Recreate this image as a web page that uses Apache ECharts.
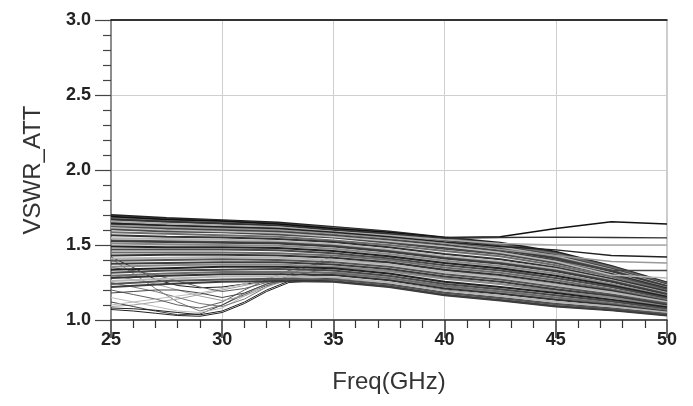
<!DOCTYPE html>
<html>
<head>
<meta charset="utf-8">
<script src="https://cdn.jsdelivr.net/npm/echarts@6/dist/echarts.min.js"></script>
<style>
  html, body { margin: 0; padding: 0; background: #fff; }
  #chart { width: 693px; height: 406px; }
</style>
</head>
<body>
<div id="chart"></div>
<script>
// frequency grids (GHz)
var freq = [25, 27.5, 30, 32.5, 35, 37.5, 40, 42.5, 45, 47.5, 50];
var freqLow = [25, 26, 27, 28, 29, 30, 31, 32, 33, 35, 37.5, 40, 42.5, 45, 47.5, 50];

var xTicks = [25, 30, 35, 40, 45, 50];
var yTicks = [1.0, 1.5, 2.0, 2.5, 3.0];

// main bundle of VSWR curves, read at freq[]
var bundle = [
    [1.70, 1.68, 1.665, 1.65, 1.62, 1.59, 1.55, 1.515, 1.455, 1.36, 1.25],
    [1.69, 1.67, 1.66, 1.64, 1.615, 1.585, 1.545, 1.505, 1.445, 1.355, 1.245],
    [1.68, 1.66, 1.65, 1.63, 1.61, 1.58, 1.54, 1.50, 1.44, 1.35, 1.24],
    [1.67, 1.655, 1.64, 1.625, 1.60, 1.57, 1.53, 1.49, 1.43, 1.34, 1.235],
    [1.66, 1.645, 1.63, 1.62, 1.59, 1.56, 1.52, 1.485, 1.425, 1.335, 1.23],
    [1.65, 1.635, 1.62, 1.61, 1.585, 1.55, 1.51, 1.475, 1.415, 1.33, 1.225],
    [1.64, 1.63, 1.615, 1.60, 1.575, 1.545, 1.505, 1.47, 1.41, 1.325, 1.225],
    [1.625, 1.61, 1.60, 1.59, 1.56, 1.53, 1.49, 1.455, 1.395, 1.31, 1.215],
    [1.615, 1.60, 1.59, 1.58, 1.555, 1.52, 1.48, 1.445, 1.385, 1.305, 1.21],
    [1.605, 1.59, 1.585, 1.57, 1.55, 1.515, 1.475, 1.44, 1.38, 1.30, 1.205],
    [1.585, 1.575, 1.565, 1.555, 1.53, 1.50, 1.46, 1.425, 1.365, 1.29, 1.195],
    [1.565, 1.555, 1.55, 1.54, 1.52, 1.485, 1.44, 1.405, 1.35, 1.275, 1.19],
    [1.545, 1.54, 1.535, 1.525, 1.505, 1.47, 1.425, 1.39, 1.34, 1.265, 1.18],
    [1.53, 1.525, 1.52, 1.515, 1.495, 1.46, 1.415, 1.38, 1.33, 1.26, 1.175],
    [1.525, 1.52, 1.515, 1.51, 1.49, 1.455, 1.41, 1.375, 1.325, 1.255, 1.17],
    [1.51, 1.505, 1.50, 1.495, 1.475, 1.44, 1.395, 1.36, 1.31, 1.24, 1.16],
    [1.49, 1.485, 1.485, 1.48, 1.46, 1.425, 1.38, 1.345, 1.295, 1.23, 1.155],
    [1.47, 1.47, 1.47, 1.465, 1.445, 1.41, 1.365, 1.33, 1.28, 1.22, 1.145],
    [1.45, 1.45, 1.45, 1.445, 1.43, 1.40, 1.35, 1.315, 1.265, 1.205, 1.135],
    [1.43, 1.435, 1.435, 1.43, 1.415, 1.385, 1.335, 1.30, 1.25, 1.195, 1.125],
    [1.41, 1.415, 1.42, 1.415, 1.40, 1.37, 1.32, 1.285, 1.235, 1.185, 1.12],
    [1.395, 1.40, 1.405, 1.40, 1.385, 1.355, 1.305, 1.27, 1.22, 1.17, 1.11],
    [1.375, 1.38, 1.385, 1.385, 1.37, 1.34, 1.29, 1.255, 1.205, 1.16, 1.10],
    [1.355, 1.365, 1.37, 1.37, 1.355, 1.325, 1.275, 1.24, 1.19, 1.15, 1.09],
    [1.335, 1.345, 1.355, 1.355, 1.345, 1.31, 1.255, 1.22, 1.18, 1.135, 1.085],
    [1.315, 1.33, 1.335, 1.34, 1.33, 1.295, 1.24, 1.205, 1.165, 1.125, 1.075],
    [1.295, 1.31, 1.32, 1.32, 1.315, 1.28, 1.225, 1.19, 1.15, 1.11, 1.065],
    [1.28, 1.295, 1.305, 1.305, 1.30, 1.265, 1.21, 1.175, 1.135, 1.10, 1.055],
    [1.26, 1.275, 1.29, 1.29, 1.285, 1.25, 1.195, 1.16, 1.12, 1.09, 1.05],
    [1.24, 1.26, 1.27, 1.275, 1.27, 1.235, 1.18, 1.145, 1.105, 1.075, 1.04],
    [1.22, 1.24, 1.255, 1.26, 1.255, 1.22, 1.165, 1.13, 1.09, 1.065, 1.03]
];

// curves that leave the bundle upward above 40 GHz
var upper = [
    [1.69, 1.67, 1.66, 1.64, 1.61, 1.585, 1.55, 1.555, 1.61, 1.655, 1.64],
    [1.67, 1.655, 1.645, 1.63, 1.60, 1.575, 1.545, 1.55, 1.553, 1.55, 1.547],
    [1.655, 1.64, 1.63, 1.62, 1.59, 1.565, 1.535, 1.51, 1.50, 1.50, 1.50],
    [1.645, 1.63, 1.62, 1.61, 1.585, 1.555, 1.52, 1.49, 1.467, 1.43, 1.42],
    [1.63, 1.62, 1.61, 1.60, 1.575, 1.545, 1.51, 1.47, 1.43, 1.39, 1.38],
    [1.62, 1.61, 1.60, 1.59, 1.565, 1.535, 1.50, 1.46, 1.40, 1.33, 1.33],
    [1.615, 1.60, 1.59, 1.58, 1.555, 1.525, 1.49, 1.45, 1.39, 1.30, 1.28]
];

// curves crossing in the low-left corner, read at freqLow[]
var lower = [
    [1.42, 1.35, 1.27, 1.23, 1.215, 1.22, 1.24, 1.255, 1.265, 1.26, 1.225, 1.17, 1.135, 1.095, 1.065, 1.035],
    [1.41, 1.31, 1.21, 1.12, 1.06, 1.10, 1.18, 1.24, 1.265, 1.255, 1.22, 1.165, 1.13, 1.09, 1.065, 1.03],
    [1.09, 1.10, 1.12, 1.14, 1.17, 1.20, 1.23, 1.26, 1.28, 1.30, 1.27, 1.22, 1.18, 1.14, 1.11, 1.07],
    [1.12, 1.09, 1.06, 1.035, 1.04, 1.10, 1.17, 1.23, 1.265, 1.26, 1.225, 1.17, 1.135, 1.095, 1.065, 1.035],
    [1.15, 1.12, 1.09, 1.06, 1.05, 1.08, 1.16, 1.24, 1.29, 1.34, 1.31, 1.25, 1.21, 1.16, 1.12, 1.08],
    [1.20, 1.17, 1.14, 1.10, 1.08, 1.12, 1.20, 1.27, 1.33, 1.40, 1.38, 1.33, 1.29, 1.24, 1.19, 1.13],
    [1.08, 1.075, 1.065, 1.05, 1.035, 1.06, 1.12, 1.20, 1.26, 1.28, 1.25, 1.20, 1.16, 1.12, 1.09, 1.05],
    [1.25, 1.22, 1.19, 1.15, 1.11, 1.09, 1.14, 1.22, 1.30, 1.43, 1.42, 1.38, 1.34, 1.28, 1.22, 1.15],
    [1.30, 1.27, 1.24, 1.20, 1.16, 1.13, 1.16, 1.22, 1.27, 1.32, 1.29, 1.24, 1.20, 1.15, 1.12, 1.08],
    [1.18, 1.19, 1.20, 1.20, 1.18, 1.15, 1.18, 1.24, 1.28, 1.31, 1.28, 1.23, 1.19, 1.15, 1.11, 1.06],
    [1.10, 1.12, 1.14, 1.16, 1.18, 1.21, 1.24, 1.28, 1.32, 1.36, 1.33, 1.28, 1.24, 1.19, 1.15, 1.10],
    [1.35, 1.33, 1.30, 1.26, 1.22, 1.19, 1.21, 1.25, 1.29, 1.35, 1.33, 1.28, 1.24, 1.20, 1.16, 1.11],
    [1.07, 1.06, 1.045, 1.03, 1.025, 1.05, 1.11, 1.19, 1.25, 1.27, 1.24, 1.185, 1.15, 1.11, 1.08, 1.045]
];

var bundleGreys = ['#222222', '#4a4a4a', '#6e6e6e', '#333333', '#b5b5b5', '#555555', '#3c3c3c', '#8a8a8a'];
var thinGreys = ['#1e1e1e', '#7a7a7a', '#a0a0a0', '#444444', '#bbbbbb', '#5e5e5e'];

var chart = echarts.init(document.getElementById('chart'));

var series = [];
function addLines(list, xs, colors, width, offset) {
    list.forEach(function (vals, k) {
        series.push({
            type: 'line',
            symbol: 'none',
            silent: true,
            lineStyle: { width: width, color: colors[(k + offset) % colors.length] },
            data: xs.map(function (f, i) { return [f, vals[i]]; })
        });
    });
}
addLines(lower, freqLow, thinGreys, 1, 0);
addLines(bundle, freq, bundleGreys, 1.9, 0);
addLines(upper, freq, ['#111111', '#333333', '#aaaaaa', '#222222', '#999999', '#444444', '#bbbbbb'], 1.3, 0);

var labelFont = { fontFamily: 'Liberation Sans, Arial, sans-serif', fontWeight: 'bold', fontSize: 18, color: '#222' };
var nameFont = { fontFamily: 'Liberation Sans, Arial, sans-serif', fontSize: 24, color: '#333' };

option = {
    animation: false,
    grid: {
        left: 111, right: 26, top: 20, bottom: 86,
        show: true, borderColor: '#999', borderWidth: 1
    },
    xAxis: [{
        type: 'value',
        min: xTicks[0], max: xTicks[xTicks.length - 1], interval: 5,
        name: 'Freq(GHz)', nameLocation: 'middle', nameGap: 50,
        nameTextStyle: nameFont,
        axisLine: { lineStyle: { color: '#333', width: 1.5 } },
        axisTick: { length: 18, lineStyle: { color: '#333', width: 1.5 } },
        minorTick: { show: true, splitNumber: 5, length: 8, lineStyle: { color: '#333', width: 1.2 } },
        axisLabel: Object.assign({ margin: 11 }, labelFont),
        splitLine: { show: true, lineStyle: { color: '#cfcfcf', width: 1 } }
    }, {
        type: 'value', position: 'top',
        min: xTicks[0], max: xTicks[xTicks.length - 1],
        axisLine: { show: true, lineStyle: { color: '#000', width: 1.5 } },
        axisTick: { show: false }, axisLabel: { show: false }, splitLine: { show: false }
    }],
    yAxis: {
        type: 'value',
        min: yTicks[0], max: yTicks[yTicks.length - 1], interval: 0.5,
        name: 'VSWR_ATT', nameLocation: 'middle', nameGap: 66, nameRotate: 90,
        nameTextStyle: nameFont,
        axisLine: { show: true, lineStyle: { color: '#777', width: 1.5 } },
        axisTick: { length: 16, lineStyle: { color: '#444', width: 1.2 } },
        minorTick: { show: true, splitNumber: 5, length: 8, lineStyle: { color: '#444', width: 1.2 } },
        axisLabel: Object.assign({ margin: 20, formatter: function (v) { return v.toFixed(1); } }, labelFont),
        splitLine: { show: true, lineStyle: { color: '#cfcfcf', width: 1 } }
    },
    series: series
};

chart.setOption(option);
</script>
</body>
</html>
